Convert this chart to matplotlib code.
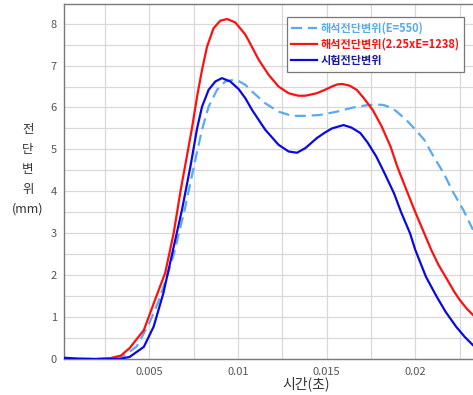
import matplotlib
matplotlib.use("Agg")
import matplotlib.pyplot as plt
from matplotlib.ticker import FixedLocator

plt.rcParams['font.family'] = ['Noto Sans CJK KR', 'DejaVu Sans']

# ---- data ----
t_e550 = [0.0002, 0.002, 0.003, 0.0036, 0.0043, 0.0050, 0.0055, 0.0060, 0.0064,
          0.0070, 0.0076, 0.00798, 0.00835, 0.00882, 0.00929, 0.00976, 0.01004,
          0.01042, 0.0108, 0.01154, 0.01229, 0.01305, 0.0138, 0.0146,
          0.01558, 0.0165, 0.0172, 0.0178, 0.0182, 0.0186, 0.0189, 0.0195, 0.0200,
          0.0205, 0.0210, 0.0216, 0.0221, 0.0227, 0.02325]
y_e550 = [0.0, 0.0, 0.02, 0.08, 0.3, 0.85, 1.35, 1.96, 2.52,
          3.56, 4.75, 5.47, 6.02, 6.42, 6.62, 6.66, 6.63,
          6.54, 6.38, 6.1, 5.9, 5.8, 5.8, 5.82,
          5.9, 6.0, 6.05, 6.07, 6.06, 6.0, 5.92, 5.7, 5.47,
          5.23, 4.85, 4.43, 4.0, 3.56, 3.08]

t_e1238 = [0.0002, 0.002, 0.0028, 0.0034, 0.0039, 0.0047, 0.0054, 0.0059, 0.00638,
           0.00676, 0.00713, 0.00741, 0.0077, 0.00798, 0.00826, 0.00863, 0.00901,
           0.00939, 0.00985, 0.0104, 0.0106, 0.01117, 0.01173, 0.01229, 0.01286,
           0.0134, 0.0138, 0.01445, 0.0149, 0.0153, 0.0156, 0.0159, 0.0163, 0.0167,
           0.0171, 0.0176, 0.0181, 0.0186, 0.0190, 0.0195, 0.0200, 0.0205, 0.0209,
           0.0213, 0.0218, 0.0222, 0.0225, 0.0229, 0.02325]
y_e1238 = [0.0, 0.0, 0.02, 0.08, 0.26, 0.69, 1.49, 2.05, 3.0,
           3.99, 4.85, 5.5, 6.26, 6.9, 7.45, 7.89, 8.07,
           8.11, 8.03, 7.75, 7.6, 7.14, 6.78, 6.5, 6.34,
           6.28, 6.28, 6.34, 6.42, 6.5, 6.55, 6.56, 6.52, 6.42,
           6.22, 5.94, 5.55, 5.07, 4.57, 4.03, 3.5, 3.0, 2.6,
           2.25, 1.89, 1.6, 1.41, 1.2, 1.05]

t_test = [0.0002, 0.001, 0.002, 0.0033, 0.0039, 0.0047, 0.00525, 0.0058, 0.0063,
          0.00685, 0.00735, 0.0077, 0.00798, 0.00835, 0.00873, 0.0091, 0.00957,
          0.01004, 0.01042, 0.0108, 0.01154, 0.01229, 0.01286, 0.01333, 0.0138,
          0.01445, 0.0149, 0.0153, 0.01595, 0.0164, 0.0169, 0.0173, 0.0178, 0.0183,
          0.0188, 0.0192, 0.0197, 0.0200, 0.0206, 0.0212, 0.0217, 0.0223, 0.0228,
          0.02325]
y_test = [0.03, 0.01, 0.0, 0.0, 0.05, 0.29, 0.77, 1.57, 2.52,
          3.56, 4.65, 5.5, 6.02, 6.42, 6.62, 6.70, 6.62,
          6.44, 6.22, 5.94, 5.47, 5.11, 4.95, 4.92, 5.03,
          5.27, 5.4, 5.5, 5.58, 5.52, 5.39, 5.17, 4.83, 4.4,
          3.95, 3.5, 3.0, 2.6, 1.96, 1.49, 1.13, 0.77, 0.52,
          0.33]

labels = ['해석전단변위(E=550)', '해석전단변위(2.25xE=1238)', '시험전단변위']
x_major = [0.005, 0.01, 0.015, 0.02]
x_major_labels = ['0.005', '0.01', '0.015', '0.02']
x_minor = [0.0025, 0.0075, 0.0125, 0.0175, 0.0225]
y_major = [0, 1, 2, 3, 4, 5, 6, 7, 8]
y_minor = [0.5, 1.5, 2.5, 3.5, 4.5, 5.5, 6.5, 7.5]

# ---- figure ----
fig = plt.figure(figsize=(4.73, 3.95), dpi=100)
ax = fig.add_axes([64/473, 1 - 359/395, 1 - 64/473, (359 - 3.5)/395])

c_light = '#5aaaf0'
c_red = '#ff1010'
c_blue = '#0a0ae0'

ax.plot(t_e550, y_e550, color=c_light, lw=1.6, dashes=(5, 2.6), label=labels[0],
        zorder=3, solid_joinstyle='round', dash_joinstyle='round')
ax.plot(t_e1238, y_e1238, color=c_red, lw=1.6, label=labels[1], zorder=3,
        solid_joinstyle='round')
ax.plot(t_test, y_test, color=c_blue, lw=1.6, label=labels[2], zorder=3,
        solid_joinstyle='round')

ax.set_xlim(0.0002, 0.02325)
ax.set_ylim(0, 8.48)

ax.xaxis.set_major_locator(FixedLocator(x_major))
ax.set_xticklabels(x_major_labels)
ax.xaxis.set_minor_locator(FixedLocator(x_minor))
ax.yaxis.set_major_locator(FixedLocator(y_major))
ax.yaxis.set_minor_locator(FixedLocator(y_minor))

ax.grid(True, which='both', color='#d8d8d8', lw=0.9, zorder=0)
ax.set_axisbelow(True)
ax.tick_params(which='both', length=0, colors='#555555', labelsize=8)
ax.tick_params(axis='x', pad=6)
ax.tick_params(axis='y', pad=5)

for s in ['left', 'bottom', 'top']:
    ax.spines[s].set_color('#7a7a7a')
    ax.spines[s].set_linewidth(1.0)
ax.spines['right'].set_visible(False)

leg = ax.legend(loc='upper left', bbox_to_anchor=(0.545, 0.962), fancybox=False,
                edgecolor='#777777', framealpha=1, handlelength=2.3,
                handletextpad=0.3, borderpad=0.4, labelspacing=0.3,
                prop={'size': 8, 'weight': 'bold'}, borderaxespad=0)
leg.get_frame().set_linewidth(0.9)
for txt, col in zip(leg.get_texts(), [c_light, c_red, '#1a1aa0']):
    txt.set_color(col)

fig.text(28/473, 1 - 169/395, '전\n단\n변\n위\n(mm)', ha='center', va='center',
         fontsize=9, color='#333333', linespacing=1.7)
fig.text(306/473, 1 - 384/395, '시간(초)', ha='center', va='center',
         fontsize=10, color='#333333')

fig.savefig('out.png', dpi=100)
